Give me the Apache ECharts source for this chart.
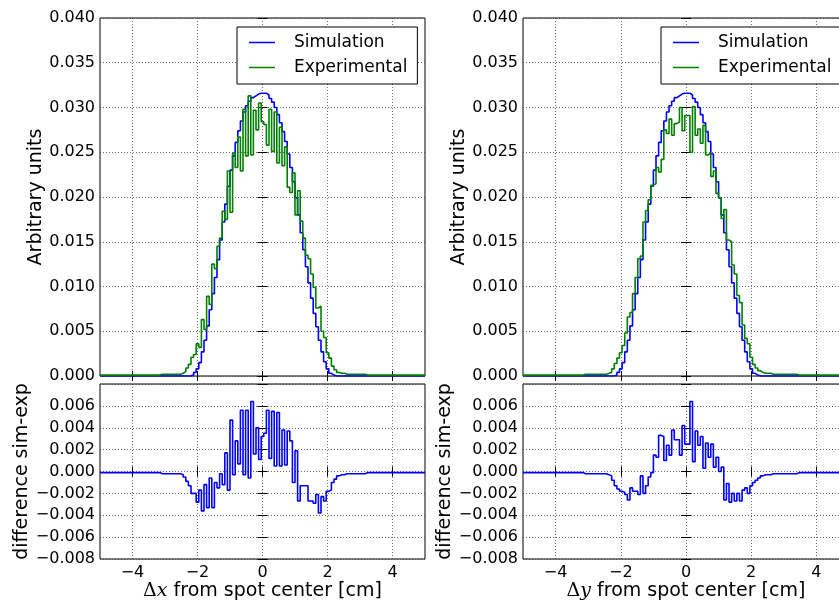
<!DOCTYPE html>
<html>
<head>
<meta charset="utf-8">
<script src="https://cdn.jsdelivr.net/npm/echarts@6/dist/echarts.min.js"></script>
<style>
  html, body { margin: 0; padding: 0; background: #fff; }
  #main { width: 839px; height: 602px; }
</style>
</head>
<body>
<div id="main"></div>
<script>
// histogram bins: 125 bins of 0.08 cm from -5 to 5
var binStart = -5;
var binWidth = 0.08;
var xTicks = [-4, -2, 0, 2, 4];

// left column (Δx)
var simX = [
  0,0,0,0,0,0,0,0,0,0,
  0,0,0,0,0,0,0,0,0,0,
  0,0,0,0,0,0,0,0,0,0,
  0,0,0,0,0,0.0001,0.0004,0.0008,0.0015,0.0027,
  0.0040,0.0056,0.0074,0.0092,0.0110,0.0130,0.0152,0.0172,0.0192,0.0212,
  0.0230,0.0246,0.0261,0.0274,0.0285,0.0295,0.0302,0.0307,0.0311,0.0313,
  0.0315,0.0316,0.0316,0.0316,0.0314,0.0310,0.0306,0.0300,0.0292,0.0283,
  0.0273,0.0262,0.0248,0.0233,0.0217,0.0199,0.0180,0.0160,0.0141,0.0122,
  0.0104,0.0087,0.0070,0.0055,0.0040,0.0027,0.0016,0.0008,0.0003,0.0001,
  0,0,0,0,0,0,0,0,0,0,
  0,0,0,0,0,0,0,0,0,0,
  0,0,0,0,0,0,0,0,0,0,
  0,0,0,0,0
];
var expX = [
  0.0001,0.0001,0.0001,0.0001,0.0001,0.0001,0.0001,0.0001,0.0001,0.0001,
  0.0001,0.0001,0.0001,0.0001,0.0001,0.0001,0.0001,0.0001,0.0001,0.0001,
  0.0001,0.0001,0.0001,0.0002,0.0002,0.0002,0.0002,0.0002,0.0002,0.0002,
  0.0002,0.0003,0.0005,0.0009,0.0013,0.0021,0.0024,0.0036,0.0032,0.0063,
  0.0052,0.0089,0.0080,0.0125,0.0120,0.0145,0.0154,0.0184,0.0175,0.0229,
  0.0183,0.0249,0.0233,0.0267,0.0229,0.0298,0.0246,0.0313,0.0247,0.0297,
  0.0275,0.0305,0.0284,0.0281,0.0258,0.0298,0.0251,0.0295,0.0238,0.0278,
  0.0235,0.0256,0.0211,0.0205,0.0227,0.0180,0.0207,0.0173,0.0154,0.0135,
  0.0131,0.0114,0.0099,0.0076,0.0078,0.0050,0.0043,0.0026,0.0020,0.0011,
  0.0007,0.0004,0.0003,0.0003,0.0002,0.0002,0.0002,0.0002,0.0002,0.0002,
  0.0002,0.0002,0.0001,0.0001,0.0001,0.0001,0.0001,0.0001,0.0001,0.0001,
  0.0001,0.0001,0.0001,0.0001,0.0001,0.0001,0.0001,0.0001,0.0001,0.0001,
  0.0001,0.0001,0.0001,0.0001,0.0001
];
var diffX = [
  -0.0001,-0.0001,-0.0001,-0.0001,-0.0001,-0.0001,-0.0001,-0.0001,-0.0001,-0.0001,
  -0.0001,-0.0001,-0.0001,-0.0001,-0.0001,-0.0001,-0.0001,-0.0001,-0.0001,-0.0001,
  -0.0001,-0.0001,-0.0001,-0.0002,-0.0002,-0.0002,-0.0002,-0.0002,-0.0002,-0.0002,
  -0.0002,-0.0003,-0.0005,-0.0009,-0.0013,-0.0020,-0.0020,-0.0028,-0.0017,-0.0036,
  -0.0012,-0.0033,-0.0006,-0.0033,-0.0010,-0.0015,-0.0002,-0.0012,0.0017,-0.0017,
  0.0047,-0.0003,0.0028,0.0007,0.0056,-0.0003,0.0056,-0.0006,0.0064,0.0016,
  0.0040,0.0011,0.0032,0.0035,0.0056,0.0012,0.0055,0.0005,0.0054,0.0005,
  0.0038,0.0006,0.0037,0.0028,-0.0010,0.0019,-0.0027,-0.0013,-0.0013,-0.0013,
  -0.0027,-0.0027,-0.0029,-0.0021,-0.0038,-0.0023,-0.0027,-0.0018,-0.0017,-0.0010,
  -0.0007,-0.0004,-0.0003,-0.0003,-0.0002,-0.0002,-0.0002,-0.0002,-0.0002,-0.0002,
  -0.0002,-0.0002,-0.0001,-0.0001,-0.0001,-0.0001,-0.0001,-0.0001,-0.0001,-0.0001,
  -0.0001,-0.0001,-0.0001,-0.0001,-0.0001,-0.0001,-0.0001,-0.0001,-0.0001,-0.0001,
  -0.0001,-0.0001,-0.0001,-0.0001,-0.0001
];

// right column (Δy)
var simY = [
  0,0,0,0,0,0,0,0,0,0,
  0,0,0,0,0,0,0,0,0,0,
  0,0,0,0,0,0,0,0,0,0,
  0,0,0,0,0,0.0001,0.0004,0.0008,0.0015,0.0027,
  0.0040,0.0056,0.0074,0.0092,0.0110,0.0130,0.0152,0.0172,0.0192,0.0212,
  0.0230,0.0246,0.0261,0.0274,0.0285,0.0295,0.0302,0.0307,0.0311,0.0313,
  0.0315,0.0316,0.0316,0.0316,0.0314,0.0310,0.0306,0.0300,0.0292,0.0283,
  0.0273,0.0262,0.0248,0.0233,0.0217,0.0199,0.0180,0.0160,0.0141,0.0122,
  0.0104,0.0087,0.0070,0.0055,0.0040,0.0027,0.0016,0.0008,0.0003,0.0001,
  0,0,0,0,0,0,0,0,0,0,
  0,0,0,0,0,0,0,0,0,0,
  0,0,0,0,0,0,0,0,0,0,
  0,0,0,0,0
];
var expY = [
  0.0001,0.0001,0.0001,0.0001,0.0001,0.0001,0.0001,0.0001,0.0001,0.0001,
  0.0001,0.0001,0.0001,0.0001,0.0001,0.0001,0.0001,0.0001,0.0001,0.0001,
  0.0001,0.0001,0.0001,0.0002,0.0002,0.0002,0.0002,0.0002,0.0002,0.0002,
  0.0002,0.0002,0.0003,0.0004,0.0008,0.0014,0.0020,0.0026,0.0034,0.0048,
  0.0066,0.0071,0.0092,0.0110,0.0131,0.0134,0.0172,0.0185,0.0197,0.0213,
  0.0215,0.0233,0.0228,0.0242,0.0275,0.0271,0.0287,0.0269,0.0282,0.0284,
  0.0300,0.0274,0.0291,0.0291,0.0250,0.0301,0.0269,0.0276,0.0260,0.0280,
  0.0247,0.0249,0.0223,0.0229,0.0204,0.0199,0.0176,0.0186,0.0152,0.0150,
  0.0124,0.0114,0.0090,0.0082,0.0057,0.0042,0.0036,0.0021,0.0013,0.0009,
  0.0006,0.0004,0.0003,0.0003,0.0003,0.0002,0.0002,0.0002,0.0002,0.0002,
  0.0002,0.0002,0.0002,0.0002,0.0002,0.0001,0.0001,0.0001,0.0001,0.0001,
  0.0001,0.0001,0.0001,0.0001,0.0001,0.0001,0.0001,0.0001,0.0001,0.0001,
  0.0001,0.0001,0.0001,0.0001,0.0001
];
var diffY = [
  -0.0001,-0.0001,-0.0001,-0.0001,-0.0001,-0.0001,-0.0001,-0.0001,-0.0001,-0.0001,
  -0.0001,-0.0001,-0.0001,-0.0001,-0.0001,-0.0001,-0.0001,-0.0001,-0.0001,-0.0001,
  -0.0001,-0.0001,-0.0001,-0.0002,-0.0002,-0.0002,-0.0002,-0.0002,-0.0002,-0.0002,
  -0.0002,-0.0002,-0.0003,-0.0004,-0.0008,-0.0013,-0.0016,-0.0018,-0.0019,-0.0021,
  -0.0026,-0.0015,-0.0018,-0.0018,-0.0021,-0.0004,-0.0020,-0.0013,-0.0005,-0.0001,
  0.0015,0.0013,0.0033,0.0032,0.0010,0.0024,0.0015,0.0038,0.0029,0.0029,
  0.0015,0.0042,0.0025,0.0025,0.0064,0.0009,0.0037,0.0024,0.0032,0.0003,
  0.0026,0.0013,0.0025,0.0004,0.0013,0.0000,0.0004,-0.0026,-0.0011,-0.0028,
  -0.0020,-0.0027,-0.0020,-0.0027,-0.0017,-0.0015,-0.0020,-0.0013,-0.0010,-0.0008,
  -0.0006,-0.0004,-0.0003,-0.0003,-0.0003,-0.0002,-0.0002,-0.0002,-0.0002,-0.0002,
  -0.0002,-0.0002,-0.0002,-0.0002,-0.0002,-0.0001,-0.0001,-0.0001,-0.0001,-0.0001,
  -0.0001,-0.0001,-0.0001,-0.0001,-0.0001,-0.0001,-0.0001,-0.0001,-0.0001,-0.0001,
  -0.0001,-0.0001,-0.0001,-0.0001,-0.0001
];

var FONT = 'DejaVu Sans';
var BLUE = '#0000ff';
var GREEN = '#008000';

function steps(vals) {
    var d = vals.map(function (v, i) { return [binStart + i * binWidth, v]; });
    d.push([binStart + vals.length * binWidth, vals[vals.length - 1]]);
    return d;
}
function minus(s) { return String(s).replace('-', '\u2212'); }

var grids = [
    {left: 100, top: 18, width: 325, height: 358},
    {left: 100, top: 384, width: 325, height: 175},
    {left: 523, top: 18, width: 326, height: 358},
    {left: 523, top: 384, width: 326, height: 175}
];
var panels = [
    {top: true,  yName: 'Arbitrary units',    nameGap: 47},
    {top: false, yName: 'difference sim-exp', nameGap: 64, xName: '{d|\u0394}{i|x} from spot center [cm]'},
    {top: true,  yName: 'Arbitrary units',    nameGap: 50},
    {top: false, yName: 'difference sim-exp', nameGap: 65, xName: '{d|\u0394}{i|y} from spot center [cm]'}
];

var tickStyle = {show: true, inside: true, length: 5, lineStyle: {color: '#000', width: 1}};
var gridLine = {show: true, lineStyle: {color: '#444', width: 0.8, type: [1, 2]}};
var xAxes = [], yAxes = [];

panels.forEach(function (p, g) {
    xAxes.push({
        type: 'value', gridIndex: g, min: -5, max: 5, position: 'bottom',
        axisLine: {show: false},
        axisTick: Object.assign({customValues: xTicks}, tickStyle),
        splitLine: gridLine,
        axisLabel: {
            show: !p.top, customValues: xTicks, margin: 6,
            fontSize: 16, fontFamily: FONT, color: '#000',
            formatter: function (v) { return minus(v); }
        },
        name: p.xName || '', nameLocation: 'middle', nameGap: 19,
        nameTextStyle: {
            fontSize: 19, fontFamily: FONT, color: '#000',
            rich: {
                d: {fontSize: 19, fontFamily: 'DejaVu Serif', color: '#000'},
                i: {fontSize: 19, fontFamily: 'DejaVu Serif', fontStyle: 'italic', color: '#000'}
            }
        }
    });
    xAxes.push({
        type: 'value', gridIndex: g, min: -5, max: 5, position: 'top',
        axisLine: {show: false},
        axisTick: Object.assign({customValues: xTicks}, tickStyle),
        splitLine: {show: false}, axisLabel: {show: false, customValues: xTicks}
    });
    var yr = p.top ? {min: 0, max: 0.04, interval: 0.005} : {min: -0.008, max: 0.008, interval: 0.002};
    yAxes.push(Object.assign({
        type: 'value', gridIndex: g, position: 'left',
        axisLine: {show: false},
        axisTick: tickStyle,
        splitLine: gridLine,
        axisLabel: {
            margin: 5, fontSize: 16, fontFamily: FONT, color: '#000',
            formatter: function (v) {
                if (!p.top && v > 0.0075) return '';
                return minus(v.toFixed(3));
            }
        },
        name: p.yName, nameLocation: 'middle', nameGap: p.nameGap,
        nameTextStyle: {fontSize: 19, fontFamily: FONT, color: '#000'}
    }, yr));
    yAxes.push(Object.assign({
        type: 'value', gridIndex: g, position: 'right',
        axisLine: {show: false}, axisTick: tickStyle,
        splitLine: {show: false}, axisLabel: {show: false}
    }, yr));
});

function line(name, vals, g, color, z) {
    return {
        name: name, type: 'line', step: 'end', data: steps(vals),
        xAxisIndex: 2 * g, yAxisIndex: 2 * g,
        showSymbol: false, symbol: 'none', clip: true, z: z,
        color: color, itemStyle: {color: color},
        lineStyle: {color: color, width: 1.6},
        animation: false, silent: true
    };
}

function legendAt(left) {
    return {
        left: left, top: 27, orient: 'vertical',
        data: ['Simulation', 'Experimental'],
        icon: 'rect', itemWidth: 26, itemHeight: 1.5, itemGap: 8,
        padding: [7, 10, 8, 12],
        borderColor: '#000', borderWidth: 1, borderRadius: 0, backgroundColor: '#fff',
        selectedMode: false,
        textStyle: {fontSize: 17, fontFamily: FONT, color: '#000', lineHeight: 17, padding: [0, 0, 0, 14]}
    };
}

var option = {
    animation: false,
    backgroundColor: '#fff',
    grid: grids.map(function (r) {
        return Object.assign({show: true, borderColor: '#000', borderWidth: 1, containLabel: false, outerBoundsMode: 'none'}, r);
    }),
    legend: [legendAt(237), legendAt(661)],
    xAxis: xAxes,
    yAxis: yAxes,
    series: [
        line('Simulation', simX, 0, BLUE, 2),
        line('Experimental', expX, 0, GREEN, 3),
        line('difference', diffX, 1, BLUE, 2),
        line('Simulation', simY, 2, BLUE, 2),
        line('Experimental', expY, 2, GREEN, 3),
        line('difference', diffY, 3, BLUE, 2)
    ]
};

var chart = echarts.init(document.getElementById('main'));
chart.setOption(option);
</script>
</body>
</html>
